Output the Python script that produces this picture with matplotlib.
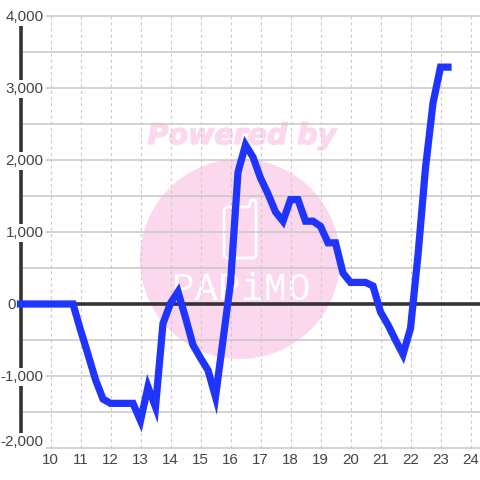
import matplotlib
matplotlib.use('Agg')
import matplotlib.pyplot as plt
import matplotlib.patheffects as pe
from matplotlib.patches import Circle, PathPatch
from matplotlib.path import Path

# value every 15 minutes from 9:00 to 23:15
values = [0, 0, 0, 0, 0, 0, 0, 0,
          -360, -700, -1050, -1320, -1380, -1380, -1380, -1380, -1620,
          -1150, -1430, -270, 10, 170, -190, -570, -750, -920, -1290,
          -500, 290, 1830, 2210, 2040, 1750, 1530, 1280, 1150, 1450,
          1450, 1150, 1150, 1080, 850, 850, 430, 300, 300, 300,
          250, -110, -290, -500, -700, -340, 680, 1890, 2790, 3290, 3290]
hours = [9 + 0.25 * i for i in range(len(values))]

xticks = list(range(10, 25))
yticks = [-2000, -1000, 0, 1000, 2000, 3000, 4000]
yminor = [-1500, -500, 500, 1500, 2500, 3500]
logo_letters = ['P', 'A', 'P', 'i', 'M', 'O']

fig = plt.figure(figsize=(4.8, 4.8), dpi=100)
ax = fig.add_axes([0, 0, 1, 1], zorder=1)
# axes cover the whole image, so pixel positions map straight to data
x_per_px = 1 / 30
y_per_px = 1000 / 72
ax.set_xlim(10 - 50.5 * x_per_px, 10 + 429.5 * x_per_px)
ax.set_ylim(-(480 - 304) * y_per_px, 304 * y_per_px)
ax.axis('off')
ax.patch.set_visible(False)

# watermark, in pixels
wm = fig.add_axes([0, 0, 1, 1], zorder=0)
wm.set_xlim(0, 480)
wm.set_ylim(480, 0)
wm.axis('off')
wm.add_patch(Circle((240, 259), 100, color='#fbd8ee', lw=0))
outline = [(224, 209), (224, 256), (227, 258), (253, 258), (256, 256), (256, 202), (254, 200),
           (251, 200), (249, 207), (227, 207), (224, 209)]
wm.add_patch(PathPatch(Path(outline), fc='none', ec='white', lw=2))
wm.text(242, 136, 'Powered by', color='#fbd8ee', fontsize=20.5, fontweight='bold',
        fontstyle='italic', family='DejaVu Sans', ha='center', va='center',
        path_effects=[pe.withStroke(linewidth=1, foreground='#fbd8ee')])
for i, letter in enumerate(logo_letters):
    wm.text(183 + 23 * i, 290, letter, color='white', fontsize=27,
            family='Liberation Mono', ha='center', va='center')

grid = '#c8c8c8'
x0 = 9
xr = ax.get_xlim()[1]
for v in yminor + yticks:
    if v != 0:
        ax.plot([x0, xr], [v, v], color=grid, lw=1.1, zorder=1)
for t in xticks:
    ax.plot([t, t], [-2000, 4000], color=grid, lw=0.8, ls=(0, (2.6, 3)), zorder=1)

# dark axes
ax.plot([9, 9], [-2000, 4000], color='#333333', lw=2.6, zorder=2, solid_capstyle='butt')
ax.plot([x0, xr], [0, 0], color='#333333', lw=2.6, zorder=2)

ax.plot(hours, values, color='#1f35ff', lw=5.2, zorder=3,
        solid_capstyle='projecting', solid_joinstyle='miter')

label_px = {4000: 17, 3000: 89, 2000: 161, 1000: 233, 0: 305, -1000: 377, -2000: 442}
for v in yticks:
    y = (304 - label_px[v]) * y_per_px
    if v == 0:
        ax.text(9 - 8.5 * x_per_px, y, '0', ha='center', va='center', fontsize=10.9,
                color='#444444', family='Liberation Sans', zorder=4)
    else:
        ax.text(9 + 23 * x_per_px, y, f'{v:,}', ha='right', va='center', fontsize=10.9,
                color='#444444', family='Liberation Sans', zorder=4,
                bbox=dict(fc='white', ec='none', pad=1.5))
for t in xticks:
    ax.text(t, (304 - 460.5) * y_per_px, str(t), ha='center', va='center', fontsize=10.9,
            color='#444444', family='Liberation Sans', zorder=4)

fig.savefig('out.png', dpi=100, facecolor='white')
